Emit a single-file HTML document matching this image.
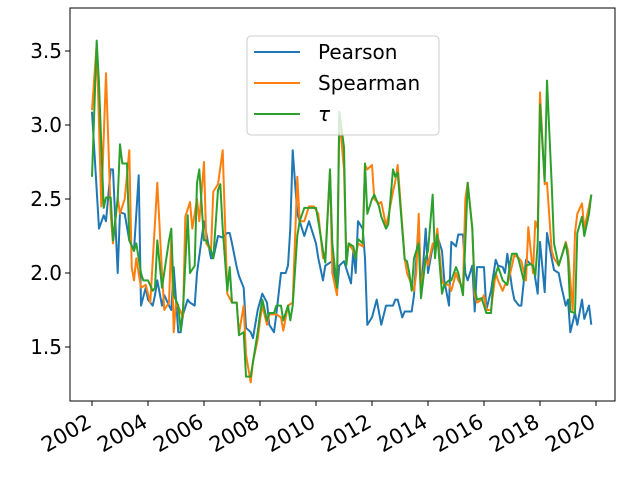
<!DOCTYPE html>
<html><head><meta charset="utf-8"><style>
body{margin:0;background:#fff;}
svg{display:block;font-family:"DejaVu Sans","Liberation Sans",sans-serif;}
</style></head><body>
<svg id="chart" width="640" height="480" viewBox="0 0 640 480" xmlns="http://www.w3.org/2000/svg">
<rect x="0" y="0" width="640" height="480" fill="#fff"/>
<g id="plot"></g>
<rect x="70" y="8" width="545" height="393" fill="none" stroke="#000" stroke-width="1"/>
<g id="axes"></g>
<g>
<rect x="247" y="36" width="192" height="99" rx="4" fill="#fff" fill-opacity="0.8" stroke="#ccc"/>
<g><line x1="254" y1="52" x2="300" y2="52" stroke="#1f77b4" stroke-width="2"/><text x="318" y="59" font-size="20">Pearson</text></g>
<g><line x1="254" y1="83" x2="300" y2="83" stroke="#ff7f0e" stroke-width="2"/><text x="318" y="90" font-size="20">Spearman</text></g>
<g><line x1="254" y1="114" x2="300" y2="114" stroke="#2ca02c" stroke-width="2"/><text x="318" y="121" font-size="20" font-style="italic">τ</text></g>
</g>
</svg>
<script>
// months since Jan 2002, values
const pearsonMonths=[0,3,5,6,8,9,11,12,14,16,18,20,21,23,24,26,27,28,30,31,33,34,35,37,38,39,41,42,44,45,48,51,52,54,56,58,59,60,62,63,65,66,68,69,71,73,75,76,78,79,81,83,84,85,86,88,89,91,93,96,97,99,100,103,105,106,108,111,112,113,114,116,117,118,120,122,124,126,129,130,131,133,134,137,138,140,141,143,144,146,147,148,150,151,153,154,156,157,159,160,161,163,164,165,168,169,171,173,174,176,177,178,180,181,183,184,186,188,189,191,192,194,195,197,198,200,201,203,204,205,207,208,210,211,213,214];
const pearsonValues=[3.09,2.30,2.39,2.35,2.70,2.70,2.0,2.41,2.40,2.22,2.15,2.66,1.78,1.9,1.82,1.78,1.85,1.95,1.78,1.85,1.78,1.75,2.04,1.6,1.6,1.72,1.82,1.8,1.78,2.0,2.35,2.1,2.1,2.25,2.24,2.27,2.27,2.2,2.04,1.98,1.9,1.63,1.6,1.56,1.75,1.86,1.8,1.65,1.6,1.72,2.0,2.0,2.05,2.3,2.83,2.4,2.35,2.25,2.35,2.2,2.1,1.95,2.05,2.08,1.87,2.05,2.08,1.93,2.15,2.0,2.35,2.3,2.1,1.65,1.7,1.82,1.65,1.78,1.78,1.82,1.82,1.7,1.74,1.74,1.85,2.35,1.85,2.3,2.0,2.18,2.18,2.25,2.15,1.95,1.78,2.21,2.18,2.26,2.26,2.0,1.95,2.05,1.74,2.04,2.04,1.75,1.88,2.09,2.05,2.04,2.0,2.13,1.9,1.82,1.78,1.78,2.09,2.06,2.06,1.86,2.21,1.87,2.27,2.1,2.02,2.0,1.92,1.78,1.82,1.6,1.73,1.65,1.82,1.69,1.78,1.65];
const spearmanMonths=[0,2,4,6,8,9,11,12,14,16,17,18,19,21,23,25,28,30,31,33,34,35,36,38,39,40,42,43,45,46,48,49,51,52,54,56,58,60,62,63,65,66,68,69,71,72,73,75,76,78,79,81,82,84,86,88,89,91,93,95,97,99,100,102,103,105,106,108,109,110,112,113,114,116,117,118,120,121,123,124,126,127,129,130,131,134,135,138,139,140,141,143,144,146,147,148,150,151,153,154,156,157,159,160,161,163,164,165,167,168,169,171,173,174,176,177,178,180,181,183,184,186,187,189,190,191,192,194,195,197,198,200,201,203,204,206,207,208,210,211,213,214];
const spearmanValues=[3.1,3.55,2.45,3.35,2.4,2.2,2.51,2.4,2.5,2.83,2.04,1.95,2.1,1.9,1.92,1.8,2.61,2.0,1.75,1.8,2.25,1.6,1.8,1.74,1.7,2.38,2.48,2.3,2.5,2.35,2.75,2.2,2.15,2.55,2.6,2.83,1.86,1.8,1.8,1.59,1.78,1.45,1.26,1.4,1.55,1.68,1.78,1.65,1.72,1.72,1.72,1.7,1.61,1.78,1.8,2.65,2.35,2.35,2.45,2.45,2.4,2.1,2.1,2.7,2.0,1.85,3.05,2.7,2.1,2.2,2.15,2.1,2.2,2.18,2.73,2.7,2.73,2.5,2.47,2.48,2.32,2.38,2.55,2.62,2.73,2.1,2.0,1.88,2.0,2.4,1.9,2.1,2.05,2.2,2.15,2.3,1.95,1.92,1.92,1.88,2.0,1.95,1.9,2.5,2.61,2.3,1.85,1.8,1.82,1.85,1.75,1.75,2.0,1.95,1.88,1.92,1.92,2.05,2.12,2.1,2.08,1.95,2.31,2.0,2.35,2.3,3.22,2.6,2.61,2.15,2.1,2.05,2.1,2.21,2.15,1.75,2.27,2.4,2.47,2.3,2.45,2.53];
const tauMonths=[0,2,3,5,6,8,9,11,12,13,15,16,18,19,21,22,24,26,27,28,30,33,34,35,37,38,39,41,42,44,45,46,48,49,51,52,54,55,56,58,59,60,62,63,65,66,68,69,71,72,73,75,76,78,79,81,82,84,85,86,88,89,91,93,96,97,99,100,102,103,105,106,108,109,110,112,113,114,116,117,118,120,121,123,124,126,127,129,130,131,134,135,136,137,138,140,141,143,144,146,147,148,150,151,153,154,156,157,159,160,161,163,164,165,167,168,169,171,172,174,175,176,178,179,180,182,183,185,186,188,189,190,191,192,194,195,197,198,200,201,203,204,205,207,208,210,211,213,214];
const tauValues=[2.65,3.57,3.28,2.44,2.51,2.51,2.22,2.5,2.87,2.74,2.74,2.22,2.15,2.2,2.0,1.95,1.95,1.88,1.9,2.22,1.9,2.22,2.3,1.85,1.78,1.61,1.75,2.39,2.0,2.05,2.61,2.7,2.22,2.22,2.15,2.1,2.56,2.6,2.3,1.88,2.04,1.8,1.8,1.58,1.6,1.3,1.3,1.4,1.6,1.72,1.82,1.68,1.73,1.73,1.78,1.78,1.68,1.78,1.68,1.78,2.25,2.35,2.44,2.44,2.44,2.35,2.15,2.07,2.7,2.2,1.9,3.09,2.85,2.05,2.2,2.18,2.1,2.23,2.2,2.74,2.4,2.5,2.53,2.45,2.38,2.3,2.33,2.7,2.65,2.68,2.09,2.08,2.0,1.88,2.1,2.2,1.83,2.1,2.15,2.53,2.1,2.26,1.86,1.92,1.95,1.95,2.04,2.0,1.85,2.2,2.61,2.3,1.9,1.82,1.83,1.78,1.73,1.73,1.95,2.04,2.0,1.95,1.92,2.05,2.13,2.13,2.08,1.95,2.05,2.06,2.05,1.98,2.2,3.14,2.62,3.3,2.6,2.2,2.05,2.1,2.2,2.1,1.74,1.73,2.27,2.38,2.25,2.4,2.53];
const xTickYears=[2002,2004,2006,2008,2010,2012,2014,2016,2018,2020];
const yTickValues=[1.5,2.0,2.5,3.0,3.5];
const yTickLabels=["1.5","2.0","2.5","3.0","3.5"];

const NS="http://www.w3.org/2000/svg";
function xMonth(m){return 92+m*28/12;}
function xYear(y){return xMonth((y-2002)*12);}
function yVal(v){return 51+(3.5-v)*148;}
const plot=document.getElementById('plot');
function series(months,vals,color,name){
  const p=document.createElementNS(NS,'polyline');
  p.setAttribute('points',months.map((m,i)=>xMonth(m).toFixed(1)+','+yVal(vals[i]).toFixed(1)).join(' '));
  p.setAttribute('fill','none');p.setAttribute('stroke',color);p.setAttribute('stroke-width','2');
  p.setAttribute('stroke-linejoin','round');
  
  
  plot.appendChild(p);
}
series(pearsonMonths,pearsonValues,'#1f77b4','pearson-line');
series(spearmanMonths,spearmanValues,'#ff7f0e','spearman-line');
series(tauMonths,tauValues,'#2ca02c','tau-line');

const axes=document.getElementById('axes');
xTickYears.forEach(y=>{
  const x=xYear(y);
  const l=document.createElementNS(NS,'line');
  l.setAttribute('x1',x);l.setAttribute('x2',x);l.setAttribute('y1',401);l.setAttribute('y2',406);
  l.setAttribute('stroke','#000');
  
  
  axes.appendChild(l);
  const t=document.createElementNS(NS,'text');
  t.setAttribute('x',x+1);t.setAttribute('y',426);
  t.setAttribute('text-anchor','end');t.setAttribute('font-size','21');
  t.setAttribute('transform','rotate(-30 '+(x+1)+' 426)');
  t.textContent=y;
  
  
  axes.appendChild(t);
});
yTickValues.forEach((v,i)=>{
  const y=yVal(v);
  const l=document.createElementNS(NS,'line');
  l.setAttribute('x1',65);l.setAttribute('x2',70);l.setAttribute('y1',y);l.setAttribute('y2',y);
  l.setAttribute('stroke','#000');
  
  
  axes.appendChild(l);
  const t=document.createElementNS(NS,'text');
  t.setAttribute('x',62);t.setAttribute('y',y+7);
  t.setAttribute('text-anchor','end');t.setAttribute('font-size','20');
  t.textContent=yTickLabels[i];
  
  
  axes.appendChild(t);
});
</script>
</body></html>
